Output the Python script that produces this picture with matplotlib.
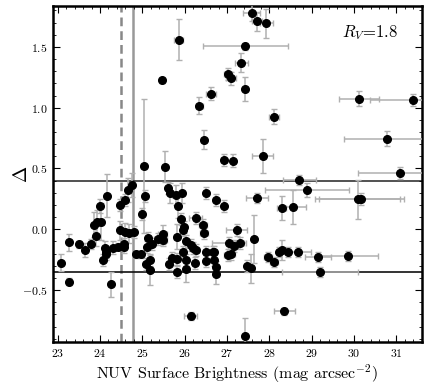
import matplotlib
matplotlib.use("Agg")
import matplotlib.pyplot as plt
from matplotlib.ticker import MultipleLocator

plt.rcParams['font.family'] = ['cmr10', 'DejaVu Serif']
plt.rcParams['mathtext.fontset'] = 'cm'
plt.rcParams['axes.formatter.use_mathtext'] = True

nuv_sb = [25.86, 25.47, 27.59, 27.71, 27.93, 27.43, 27.34, 27.02, 27.10, 27.42,
          26.63, 26.35, 28.12, 26.45, 27.84, 26.92, 27.14, 25.03, 25.53, 30.12,
          31.39, 30.77, 31.09, 28.71, 28.89, 30.09, 30.17, 28.29, 28.57, 27.71,
          26.73, 26.93, 27.23, 27.63, 27.04, 27.17, 27.30, 27.03, 27.10, 26.69,
          26.69, 26.73, 26.75, 27.47, 27.57, 27.97, 28.11, 28.24, 28.30, 28.45,
          28.68, 29.15, 29.87, 29.20, 28.35, 27.42, 23.09, 23.26, 23.26, 23.51,
          23.64, 23.78, 23.87, 23.92, 24.02, 23.90, 24.00, 24.17, 24.06, 24.12,
          24.14, 24.14, 24.31, 24.42, 24.25, 24.47, 24.59, 24.47, 24.60, 24.68,
          24.81, 24.57, 24.57, 24.66, 24.75, 25.07, 25.00, 24.85, 24.96, 25.10,
          25.08, 25.18, 25.19, 25.14, 25.24, 25.37, 25.48, 25.49, 25.64, 25.70,
          25.81, 25.81, 25.81, 25.84, 25.92, 25.99, 25.97, 25.95, 26.04, 26.04,
          26.04, 26.14, 26.26, 26.24, 26.14, 26.19, 26.28, 26.43, 26.46, 26.50,
          26.50, 26.67, 26.51, 25.61, 25.65, 25.79, 25.93]
delta = [1.56, 1.226, 1.78, 1.71, 1.695, 1.506, 1.37, 1.278, 1.24, 1.152,
         1.116, 1.017, 0.927, 0.738, 0.60, 0.568, 0.565, 0.52, 0.515, 1.075,
         1.06, 0.746, 0.463, 0.406, 0.323, 0.247, 0.252, 0.173, 0.186, 0.255,
         0.241, 0.194, -0.006, -0.08, -0.115, -0.135, -0.115, -0.21, -0.20, -0.19,
         -0.25, -0.31, -0.37, -0.30, -0.32, -0.23, -0.27, -0.187, -0.17, -0.184,
         -0.184, -0.23, -0.222, -0.354, -0.675, -0.876, -0.275, -0.43, -0.107, -0.124,
         -0.17, -0.124, 0.038, 0.057, 0.063, -0.055, 0.19, 0.277, -0.25, -0.15,
         -0.184, -0.20, -0.15, -0.143, -0.453, 0.20, 0.24, -0.01, -0.025, -0.033,
         -0.02, -0.123, -0.148, 0.323, 0.365, 0.277, 0.126, -0.206, -0.206, -0.148,
         -0.285, -0.253, -0.335, -0.069, -0.124, -0.082, -0.041, -0.088, -0.286, -0.24,
         -0.06, -0.35, -0.245, 0.19, 0.085, 0.02, -0.005, -0.19, -0.10, -0.25,
         -0.33, -0.714, 0.095, -0.275, -0.129, -0.157, -0.17, 0.035, -0.033, -0.184,
         -0.26, -0.184, 0.30, 0.337, 0.30, 0.282, 0.30]
nuv_err = [0.1, 0.05, 0.2, 0.12, 0.15, 1.0, 0.15, 0.1, 0.12, 0.05,
           0.12, 0.08, 0.12, 0.06, 0.25, 0.05, 0.05, 0.05, 0.05, 0.47,
           1.0, 1.0, 1.0, 0.39, 1.0, 1.0, 1.0, 0.1, 0.3, 0.25,
           0.05, 0.05, 0.25, 0.05, 0.4, 0.1, 0.1, 0.1, 0.1, 0.05,
           0.05, 0.05, 0.05, 0.05, 0.05, 0.1, 0.1, 0.05, 0.05, 0.05,
           0.3, 0.3, 0.7, 0.9, 0.25, 0.05, 0.03, 0.03, 0.03, 0.03,
           0.03, 0.03, 0.03, 0.03, 0.03, 0.03, 0.03, 0.03, 0.03, 0.03,
           0.03, 0.03, 0.03, 0.03, 0.03, 0.03, 0.03, 0.03, 0.03, 0.03,
           0.03, 0.03, 0.03, 0.03, 0.03, 0.05, 0.05, 0.05, 0.05, 0.03,
           0.03, 0.03, 0.03, 0.03, 0.03, 0.1, 0.1, 0.1, 0.05, 0.05,
           0.05, 0.05, 0.05, 0.05, 0.05, 0.05, 0.05, 0.05, 0.05, 0.05,
           0.05, 0.15, 0.15, 0.05, 0.05, 0.05, 0.05, 0.1, 0.1, 0.05,
           0.05, 0.05, 0.05, 0.05, 0.05, 0.1, 0.05]
delta_err = [0.17, 0.02, 0.07, 0.08, 0.12, 0.03, 0.08, 0.05, 0.05, 0.1,
             0.05, 0.07, 0.06, 0.08, 0.14, 0.05, 0.05, 0.55, 0.13, 0.06,
             0.05, 0.06, 0.05, 0.04, 0.06, 0.16, 0.05, 0.1, 0.14, 0.04,
             0.05, 0.05, 0.05, 0.2, 0.05, 0.05, 0.05, 0.05, 0.05, 0.05,
             0.05, 0.05, 0.08, 0.05, 0.12, 0.04, 0.04, 0.04, 0.08, 0.04,
             0.04, 0.04, 0.04, 0.04, 0.03, 0.15, 0.07, 0.03, 0.07, 0.03,
             0.06, 0.04, 0.1, 0.1, 0.15, 0.08, 0.06, 0.18, 0.05, 0.05,
             0.05, 0.05, 0.05, 0.03, 0.1, 0.05, 0.05, 0.08, 0.08, 0.08,
             0.05, 0.05, 0.05, 0.1, 0.1, 0.05, 0.05, 0.03, 0.03, 0.05,
             0.05, 0.05, 0.12, 0.05, 0.05, 0.05, 0.08, 0.05, 0.05, 0.05,
             0.1, 0.05, 0.05, 0.1, 0.05, 0.05, 0.05, 0.05, 0.05, 0.05,
             0.1, 0.03, 0.05, 0.05, 0.05, 0.05, 0.05, 0.05, 0.05, 0.05,
             0.05, 0.05, 0.05, 0.05, 0.08, 0.08, 0.08]

upper_cut = 0.4
lower_cut = -0.35
sb_dashed = 24.5
sb_solid = 24.77

fig = plt.figure(figsize=(4.29, 3.84), dpi=100)
ax = fig.add_axes([0.1235, 0.110, 0.983 - 0.1235, 0.984 - 0.110])

ax.axvline(sb_dashed, color='#888888', lw=1.8, ls=(0, (3.5, 2)), zorder=1)
ax.axvline(sb_solid, color='#999999', lw=1.8, zorder=1)
ax.axhline(upper_cut, color='#333333', lw=1.2, zorder=1)
ax.axhline(lower_cut, color='#111111', lw=1.2, zorder=1)

ax.errorbar(nuv_sb, delta, xerr=nuv_err, yerr=delta_err, fmt='o', color='black',
            ms=5.5, ecolor='#b0b0b0', elinewidth=1.1, capsize=2.5, capthick=1.0, zorder=3)

ax.set_xlim(22.89, 31.6)
ax.set_ylim(-0.925, 1.835)
ax.xaxis.set_major_locator(MultipleLocator(1))
ax.xaxis.set_minor_locator(MultipleLocator(0.2))
ax.yaxis.set_major_locator(MultipleLocator(0.5))
ax.yaxis.set_minor_locator(MultipleLocator(0.1))
ax.tick_params(which='both', direction='in', top=True, right=True, labelsize=8.5)
ax.tick_params(which='major', length=5, width=0.8, pad=4)
ax.tick_params(which='minor', length=2.5, width=0.6)
for s in ax.spines.values():
    s.set_linewidth(1.8)

ax.set_xlabel(r'NUV Surface Brightness (mag arcsec$^{-2}$)', fontsize=11.5, labelpad=2)
ax.set_ylabel(r'$\Delta$', fontsize=14)
ax.yaxis.set_label_coords(-0.06, 0.5)
ax.text(0.784, 0.92, r'$R_V$=1.8', transform=ax.transAxes, fontsize=12,
        ha='left', va='center')

fig.savefig('out.png', dpi=100)
